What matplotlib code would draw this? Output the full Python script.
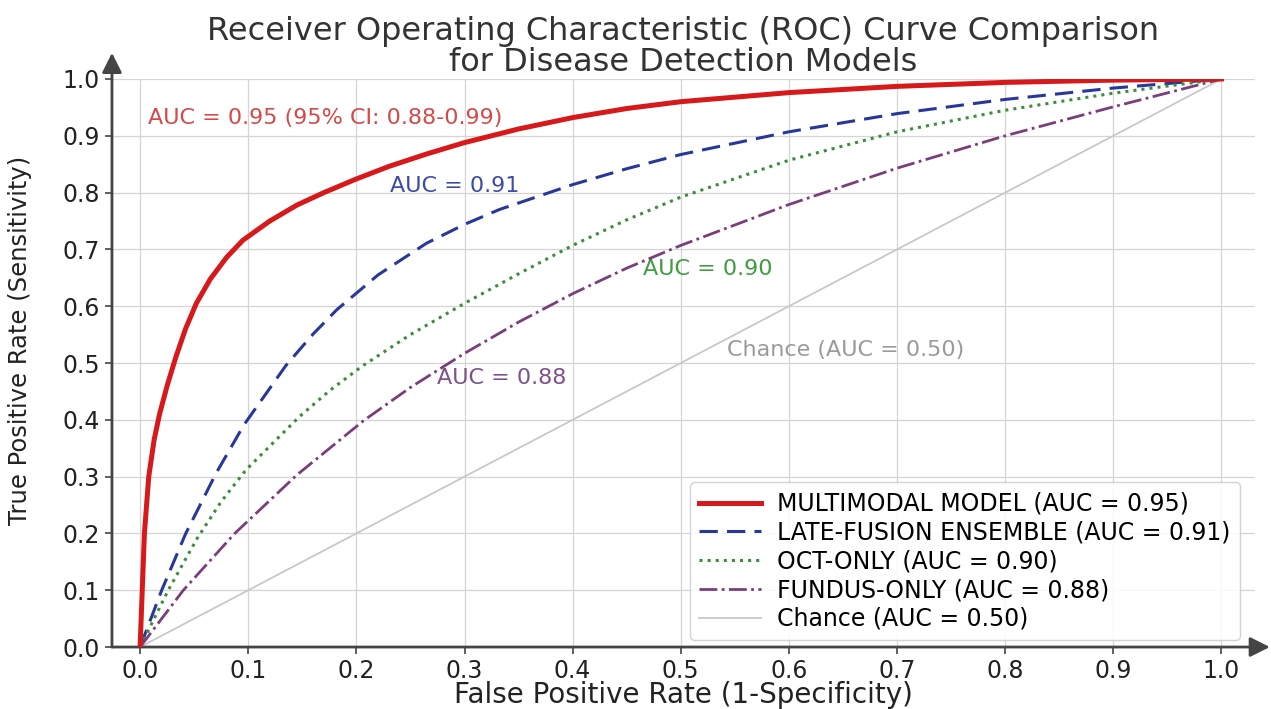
import matplotlib
matplotlib.use("Agg")
import matplotlib.pyplot as plt

# ROC points
mm_fpr = [0, 0.002, 0.004, 0.008, 0.013, 0.018, 0.025, 0.033, 0.042, 0.052, 0.065, 0.08, 0.095, 0.12,
          0.145, 0.17, 0.20, 0.23, 0.265, 0.30, 0.35, 0.40, 0.45, 0.50, 0.60, 0.70, 0.80, 0.90, 1.0]
mm_tpr = [0, 0.10, 0.20, 0.30, 0.365, 0.41, 0.46, 0.51, 0.56, 0.605, 0.648, 0.686, 0.716, 0.75,
          0.778, 0.80, 0.824, 0.846, 0.868, 0.888, 0.912, 0.932, 0.948, 0.960, 0.976, 0.987, 0.994, 0.998, 1.0]

lf_fpr = [0, 0.02, 0.042, 0.07, 0.096, 0.135, 0.16, 0.182, 0.22, 0.265, 0.30, 0.332, 0.40, 0.45,
          0.50, 0.60, 0.70, 0.80, 0.90, 1.0]
lf_tpr = [0, 0.10, 0.199, 0.305, 0.391, 0.496, 0.551, 0.594, 0.655, 0.711, 0.744, 0.770, 0.814, 0.842,
          0.867, 0.907, 0.939, 0.964, 0.984, 1.0]

oct_fpr = [0, 0.026, 0.053, 0.075, 0.098, 0.147, 0.175, 0.205, 0.25, 0.30, 0.35, 0.40, 0.45, 0.50,
           0.60, 0.70, 0.80, 0.90, 1.0]
oct_tpr = [0, 0.10, 0.192, 0.256, 0.312, 0.405, 0.451, 0.494, 0.55, 0.605, 0.657, 0.707, 0.752, 0.792,
           0.857, 0.907, 0.945, 0.975, 1.0]

fun_fpr = [0, 0.04, 0.087, 0.145, 0.207, 0.25, 0.30, 0.35, 0.40, 0.45, 0.50, 0.60, 0.70, 0.80, 0.90, 1.0]
fun_tpr = [0, 0.10, 0.199, 0.303, 0.399, 0.457, 0.517, 0.572, 0.622, 0.667, 0.707, 0.779, 0.843, 0.90, 0.951, 1.0]

chance = [0, 1]

labels = ["MULTIMODAL MODEL (AUC = 0.95)", "LATE-FUSION ENSEMBLE (AUC = 0.91)",
          "OCT-ONLY (AUC = 0.90)", "FUNDUS-ONLY (AUC = 0.88)", "Chance (AUC = 0.50)"]
ticks = [0.0, 0.1, 0.2, 0.3, 0.4, 0.5, 0.6, 0.7, 0.8, 0.9, 1.0]

red, blue, green, purple, grey = "#d7191c", "#27389a", "#3c8d3c", "#7a3e7a", "#c8c8c8"

fig = plt.figure(figsize=(12.71, 7.09), dpi=100)
ax = fig.add_axes([0.0881, 0.0874, 0.8993, 0.8012])

ax.plot(mm_fpr, mm_tpr, color=red, lw=3.6, label=labels[0], zorder=5)
ax.plot(lf_fpr, lf_tpr, color=blue, lw=2.2, ls=(0, (6, 3)), label=labels[1], zorder=4)
ax.plot(oct_fpr, oct_tpr, color=green, lw=2.2, ls=":", label=labels[2], zorder=4)
ax.plot(fun_fpr, fun_tpr, color=purple, lw=2.0, ls="-.", label=labels[3], zorder=4)
ax.plot(chance, chance, color=grey, lw=1.3, label=labels[4], zorder=3)

# curve annotations
ax.text(0.007, 0.931, "AUC = 0.95 (95% CI: 0.88-0.99)", color="#d44a4a", fontsize=16, va="center")
ax.text(0.231, 0.812, "AUC = 0.91", color="#3c4ca6", fontsize=16, va="center")
ax.text(0.465, 0.665, "AUC = 0.90", color="#3f9c3f", fontsize=16, va="center")
ax.text(0.275, 0.474, "AUC = 0.88", color="#7d5289", fontsize=16, va="center")
ax.text(0.543, 0.523, "Chance (AUC = 0.50)", color="#9a9a9a", fontsize=16, va="center")

ax.set_xlim(-0.026, 1.031)
ax.set_ylim(0, 1.0)
ax.set_xticks(ticks)
ax.set_yticks(ticks)
ax.set_xticklabels([f"{t:.1f}" for t in ticks])
ax.set_yticklabels([f"{t:.1f}" for t in ticks])
ax.tick_params(labelsize=17, colors="#444444", labelcolor="#222222", length=5, width=1.2)
ax.grid(True, color="#d4d4d4", lw=0.9)
ax.set_axisbelow(True)

for s in ax.spines.values():
    s.set_visible(False)
# axis lines with arrow heads
arrow = dict(arrowstyle="-|>,head_length=0.6,head_width=0.3", color="#444444", lw=2,
             shrinkA=0, shrinkB=0, mutation_scale=20)
ax.annotate("", xy=(0, 1.046), xytext=(0, 0), xycoords="axes fraction",
            textcoords="axes fraction", arrowprops=arrow, annotation_clip=False)
ax.annotate("", xy=(1.013, 0), xytext=(0, 0), xycoords="axes fraction",
            textcoords="axes fraction", arrowprops=arrow, annotation_clip=False)

ax.set_xlabel("False Positive Rate (1-Specificity)", fontsize=20, color="#222222", labelpad=-1)
ax.set_ylabel("True Positive Rate (Sensitivity)", fontsize=17.5, color="#222222")
ax.yaxis.set_label_coords(-0.07, 0.54)
ax.set_title("Receiver Operating Characteristic (ROC) Curve Comparison\nfor Disease Detection Models",
             fontsize=23, color="#333333", pad=6, linespacing=0.98)

ax.legend(loc="lower right", bbox_to_anchor=(0.987, 0.012), borderaxespad=0, fontsize=17,
          handlelength=2.6, handletextpad=0.7, labelspacing=0.2, borderpad=0.4,
          framealpha=0.85, edgecolor="#cccccc")

fig.savefig("out.png", dpi=100)
